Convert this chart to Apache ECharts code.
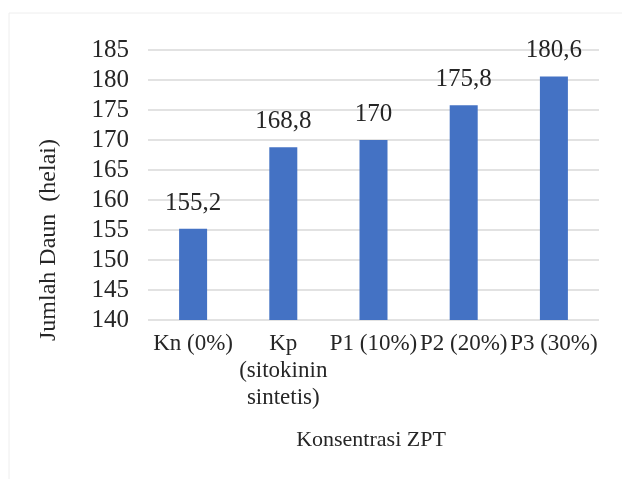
<!DOCTYPE html>
<html>
<head>
<meta charset="utf-8">
<script src="https://cdn.jsdelivr.net/npm/echarts@6/dist/echarts.min.js"></script>
<style>
  html, body { margin: 0; padding: 0; background: #ffffff; }
  #chart { width: 622px; height: 479px; }
</style>
</head>
<body>
<div id="chart"></div>
<script>
// Treatment groups (x axis) and mean leaf count per group
const categories = ['Kn (0%)', 'Kp\n(sitokinin\nsintetis)', 'P1 (10%)', 'P2 (20%)', 'P3 (30%)'];
const leafCounts = [155.2, 168.8, 170, 175.8, 180.6];
const yMin = 140, yMax = 185, yStep = 5;
const xTitle = 'Konsentrasi ZPT';
const yTitle = 'Jumlah Daun  (helai)';

const serif = '"Liberation Serif", "Times New Roman", serif';
const chart = echarts.init(document.getElementById('chart'));

chart.setOption({
  backgroundColor: '#ffffff',
  animation: false,
  grid: { left: 148, right: 23, top: 50, bottom: 159, containLabel: false },
  xAxis: {
    type: 'category',
    data: categories,
    axisLine: { show: false },
    axisTick: { show: false },
    axisLabel: {
      interval: 0,
      margin: 10,
      color: '#262626',
      fontFamily: serif,
      fontSize: 23,
      lineHeight: 27
    }
  },
  yAxis: {
    type: 'value',
    min: yMin,
    max: yMax,
    interval: yStep,
    axisLine: { show: false },
    axisTick: { show: false },
    splitLine: { lineStyle: { color: '#d9d9d9', width: 1.5 } },
    axisLabel: {
      margin: 19,
      color: '#262626',
      fontFamily: serif,
      fontSize: 25
    }
  },
  series: [{
    type: 'bar',
    data: leafCounts,
    barWidth: 28,
    itemStyle: { color: '#4472c4' },
    label: {
      show: true,
      position: 'top',
      distance: 13,
      color: '#262626',
      fontFamily: serif,
      fontSize: 25,
      formatter: p => String(p.value).replace('.', ',')
    }
  }],
  graphic: [
    {
      type: 'rect',
      shape: { x: 9, y: 13, width: 640, height: 480 },
      style: { fill: 'none', stroke: '#eeeeee', lineWidth: 1 },
      silent: true
    },
    {
      type: 'text',
      x: 49,
      y: 240,
      rotation: Math.PI / 2,
      style: {
        text: yTitle,
        fill: '#262626',
        font: '24px ' + serif,
        align: 'center',
        verticalAlign: 'middle'
      }
    },
    {
      type: 'text',
      x: 371,
      y: 440,
      style: {
        text: xTitle,
        fill: '#262626',
        font: '22px ' + serif,
        align: 'center',
        verticalAlign: 'middle'
      }
    }
  ]
});
</script>
</body>
</html>
